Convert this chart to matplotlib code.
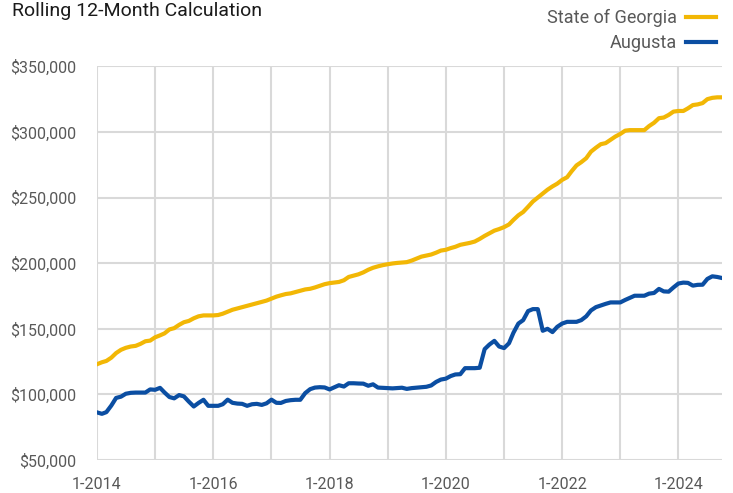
import numpy as np
import pandas as pd
import matplotlib
matplotlib.use("Agg")
import matplotlib.pyplot as plt
import matplotlib.dates as mdates
from matplotlib.ticker import FuncFormatter, MultipleLocator

plt.rcParams['font.family'] = ['Roboto', 'DejaVu Sans']

# monthly rolling 12-month values, Jan 2014 .. Oct 2024 (thousands of $)
months = pd.date_range("2014-01-01", periods=130, freq="MS")

georgia = [123, 124.5, 125.5, 128, 131.5, 134, 135.5, 136.5, 137, 138.5,
           140.5, 141, 143.5, 145, 146.5, 149.5, 150.5, 153, 155, 156,
           158, 159.5, 160.2, 160.2, 160.2, 160.5, 161.5, 163, 164.5, 165.5,
           166.5, 167.5, 168.5, 169.5, 170.5, 171.5, 173, 174.5, 175.5, 176.5,
           177, 178, 179, 180, 180.5, 181.5, 182.8, 184, 184.8, 185.3,
           185.7, 187, 189.5, 190.5, 191.5, 193, 195, 196.5, 197.6, 198.5,
           199.2, 199.8, 200.2, 200.5, 200.8, 202, 203.5, 205, 205.8, 206.6,
           208, 209.6, 210.2, 211.5, 212.5, 214, 214.7, 215.5, 216.5, 218.5,
           220.8, 222.8, 224.8, 226, 227.5, 229.5, 233, 236.5, 239, 243,
           247, 250, 253, 256, 258.5, 260.6, 263.5, 265.5, 270, 274.5,
           277, 280, 285, 288, 290.7, 291.5, 294, 296.5, 298.5, 301,
           301.4, 301.4, 301.4, 301.4, 304.5, 307, 310.5, 311, 313, 315.5,
           316, 316, 318, 320.5, 321, 322, 325, 326, 326.4, 326.4]

augusta = [86.3, 85.2, 86.5, 91.5, 97.3, 98.3, 100.5, 101.2, 101.4, 101.4,
           101.4, 103.8, 103.5, 105, 101.5, 98, 97, 99.5, 98.5, 94.5,
           90.8, 93.5, 95.9, 91.3, 91.3, 91.3, 92.5, 96, 93.6, 93,
           92.8, 91.3, 92.5, 92.8, 92, 93.2, 96, 93.6, 93.5, 95,
           95.6, 95.9, 95.9, 101, 104, 105.2, 105.5, 105.3, 103.8, 105.5,
           107, 106, 108.5, 108.5, 108.3, 108.2, 106.6, 107.7, 105.2, 105,
           104.8, 104.6, 104.8, 105.1, 104.2, 104.8, 105.1, 105.4, 105.8, 106.8,
           109.5, 111.3, 112, 114, 115.2, 115.4, 120, 120, 120, 120.3,
           134.5, 138, 140.8, 136.5, 135.3, 139, 147, 154, 156.6, 163.5,
           165, 165, 148.5, 150, 147.5, 151.5, 154, 155.3, 155.3, 155.3,
           156.6, 159.5, 164, 166.5, 167.8, 169, 170.1, 170.1, 170.1, 172,
           173.5, 175.2, 175.2, 175.2, 176.8, 177.3, 180.4, 178.5, 178.3, 181.5,
           184.5, 185.2, 185, 182.9, 183.5, 183.6, 188, 190, 189.5, 188.7]

series_names = ["State of Georgia", "Augusta"]
series_colors = ["#F2B705", "#0B4EA2"]

fig = plt.figure(figsize=(7.33, 4.93), dpi=100)
ax = fig.add_axes([0.1323, 0.0669, 0.8527, 0.7985])

for vals, name, col in zip([georgia, augusta], series_names, series_colors):
    ax.plot(months, np.array(vals) * 1000, color=col, lw=3, label=name,
            solid_joinstyle='round', zorder=3)

ax.set_xlim(months[0], months[-1])
ax.set_ylim(50000, 350000)
ax.yaxis.set_major_locator(MultipleLocator(50000))
ax.yaxis.set_major_formatter(FuncFormatter(lambda v, p: f"${v:,.0f}"))

ax.xaxis.set_major_locator(mdates.YearLocator(2))
ax.xaxis.set_minor_locator(mdates.YearLocator(1))
ax.xaxis.set_major_formatter(FuncFormatter(
    lambda v, p: f"{mdates.num2date(v).month}-{mdates.num2date(v).year}"))

ax.grid(True, which='both', color='#d9d9d9', lw=1.5, zorder=1)
for s in ax.spines.values():
    s.set_visible(False)
ax.tick_params(which='both', length=0, labelsize=11.5, colors='#595959')
ax.tick_params(axis='y', pad=15)
ax.tick_params(axis='x', pad=12)

fig.text(0.016, 0.977, "Rolling 12-Month Calculation", fontsize=14,
         color='#1a1a1a', ha='left', va='center')

fig.legend(loc='upper right', bbox_to_anchor=(0.992, 1.003), frameon=False,
           markerfirst=False, fontsize=13, labelcolor='#595959',
           handlelength=1.7, handletextpad=0.45, labelspacing=0.38,
           borderaxespad=0.2)

fig.savefig("out.png", dpi=100)
